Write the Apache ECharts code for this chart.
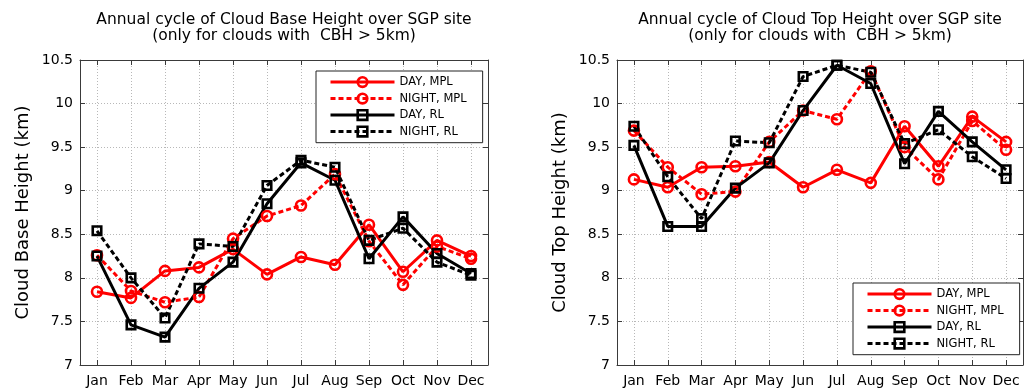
<!DOCTYPE html>
<html><head><meta charset="utf-8">
<script src="https://cdn.jsdelivr.net/npm/echarts@6/dist/echarts.min.js"></script>
<style>html,body{margin:0;padding:0;background:#fff}#c{width:1024px;height:390px}</style>
</head><body><div id="c"></div>
<script>
const months = ['Jan','Feb','Mar','Apr','May','Jun','Jul','Aug','Sep','Oct','Nov','Dec'];
const seriesNames = ['DAY, MPL','NIGHT, MPL','DAY, RL','NIGHT, RL'];
const yMin = 7, yMax = 10.5, yStep = 0.5;

// Cloud Base Height (km)
const cbhDayMPL   = [7.84, 7.77, 8.08, 8.12, 8.33, 8.04, 8.24, 8.15, 8.61, 8.07, 8.43, 8.25];
const cbhNightMPL = [8.26, 7.85, 7.72, 7.78, 8.45, 8.71, 8.83, 9.19, 8.42, 7.92, 8.36, 8.22];
const cbhDayRL    = [8.25, 7.46, 7.32, 7.88, 8.18, 8.85, 9.32, 9.12, 8.22, 8.70, 8.28, 8.05];
const cbhNightRL  = [8.54, 8.00, 7.54, 8.39, 8.36, 9.06, 9.35, 9.27, 8.43, 8.57, 8.18, 8.03];

// Cloud Top Height (km)
const cthDayMPL   = [9.13, 9.04, 9.27, 9.28, 9.33, 9.04, 9.24, 9.09, 9.74, 9.28, 9.85, 9.56];
const cthNightMPL = [9.69, 9.27, 8.96, 8.99, 9.56, 9.92, 9.82, 10.37, 9.50, 9.13, 9.80, 9.47];
const cthDayRL    = [9.52, 8.59, 8.59, 9.03, 9.32, 9.92, 10.44, 10.23, 9.31, 9.91, 9.56, 9.24];
const cthNightRL  = [9.74, 9.16, 8.68, 9.57, 9.55, 10.31, 10.44, 10.36, 9.54, 9.70, 9.39, 9.14];

const titleLeft = ['Annual cycle of Cloud Base Height over SGP site', '(only for clouds with  CBH > 5km)'];
const titleRight = ['Annual cycle of Cloud Top Height over SGP site', '(only for clouds with  CBH > 5km)'];

const FONT = 'DejaVu Sans';
const RED = '#ff0000', BLACK = '#000000';
const axisColor = '#3a3a3a';

function xAxes(gi) {
  return [{
    gridIndex: gi, type: 'category', data: months, boundaryGap: true, position: 'bottom',
    axisLine: {show: true, lineStyle: {color: axisColor, width: 1}},
    axisTick: {show: true, inside: true, alignWithLabel: true, interval: 0, length: 5, lineStyle: {color: axisColor}},
    axisLabel: {interval: 0, color: '#000', fontSize: 14, fontFamily: FONT, margin: 9},
    splitLine: {show: true, interval: 0, alignWithLabel: true, lineStyle: {color: '#b8b8b8', type: [1, 2], width: 1}}
  }, {
    gridIndex: gi, type: 'category', data: months, boundaryGap: true, position: 'top',
    axisLine: {show: true, lineStyle: {color: axisColor, width: 1}},
    axisTick: {show: true, inside: true, alignWithLabel: true, interval: 0, length: 5, lineStyle: {color: axisColor}},
    axisLabel: {show: false}, splitLine: {show: false}
  }];
}
function yAxes(gi, name) {
  return [{
    gridIndex: gi, type: 'value', min: yMin, max: yMax, interval: yStep, position: 'left',
    name: name, nameLocation: 'middle', nameGap: 48,
    nameTextStyle: {fontSize: 18, fontFamily: FONT, color: '#000'},
    axisLine: {show: true, lineStyle: {color: axisColor, width: 1}},
    axisTick: {show: true, inside: true, length: 5, lineStyle: {color: axisColor}},
    axisLabel: {color: '#000', fontSize: 14, fontFamily: FONT, margin: 7},
    splitLine: {show: true, lineStyle: {color: '#b8b8b8', type: [1, 2], width: 1}}
  }, {
    gridIndex: gi, type: 'value', min: yMin, max: yMax, interval: yStep, position: 'right',
    axisLine: {show: true, lineStyle: {color: axisColor, width: 1}},
    axisTick: {show: true, inside: true, length: 5, lineStyle: {color: axisColor}},
    axisLabel: {show: false}, splitLine: {show: false}
  }];
}

function mkSeries(name, data, gi, color, dashed, symbol) {
  return {
    name: name, type: 'line', data: data,
    xAxisIndex: gi * 2, yAxisIndex: gi * 2,
    symbol: symbol, symbolSize: symbol === 'circle' ? 10 : 8.5,
    lineStyle: {color: color, width: 3, type: dashed ? [5, 3] : 'solid'},
    itemStyle: {color: 'rgba(255,255,255,0)', borderColor: color, borderWidth: 2.6},
    emphasis: {disabled: true}, animation: false, z: 2
  };
}

function seriesFor(gi, a, b, c, d) {
  return [
    mkSeries(seriesNames[0], a, gi, RED, false, 'circle'),
    mkSeries(seriesNames[1], b, gi, RED, true, 'circle'),
    mkSeries(seriesNames[2], c, gi, BLACK, false, 'rect'),
    mkSeries(seriesNames[3], d, gi, BLACK, true, 'rect')
  ];
}

function legendAt(left, top) {
  return {
    data: seriesNames, orient: 'vertical', left: left, top: top,
    itemWidth: 64, itemHeight: 12, itemGap: 4.3,
    padding: [5, 16, 5, 13],
    borderColor: '#222', borderWidth: 1, backgroundColor: '#fff', borderRadius: 0,
    textStyle: {fontSize: 11.5, fontFamily: FONT, color: '#000'},
    lineStyle: {width: 3},
    itemStyle: {borderWidth: 2.6},
    selectedMode: false
  };
}

function titleText(lines, cx) {
  return lines.map((t, i) => ({
    type: 'text', x: cx, y: 20 + i * 15.5,
    style: {text: t, font: '15.5px "DejaVu Sans"', fill: '#000', textAlign: 'center', textVerticalAlign: 'middle'}
  }));
}

const chart = echarts.init(document.getElementById('c'), null, {renderer: 'canvas'});
chart.setOption({
  animation: false,
  backgroundColor: '#fff',
  grid: [
    {left: 80, top: 60, width: 408, height: 305},
    {left: 617, top: 60, width: 406, height: 305}
  ],
  xAxis: [...xAxes(0), ...xAxes(1)],
  yAxis: [...yAxes(0, 'Cloud Base Height (km)'), ...yAxes(1, 'Cloud Top Height (km)')],
  legend: [legendAt(316, 71), legendAt(853, 283)],
  series: [
    ...seriesFor(0, cbhDayMPL, cbhNightMPL, cbhDayRL, cbhNightRL),
    ...seriesFor(1, cthDayMPL, cthNightMPL, cthDayRL, cthNightRL)
  ],
  graphic: [...titleText(titleLeft, 284), ...titleText(titleRight, 820)]
});
</script></body></html>
